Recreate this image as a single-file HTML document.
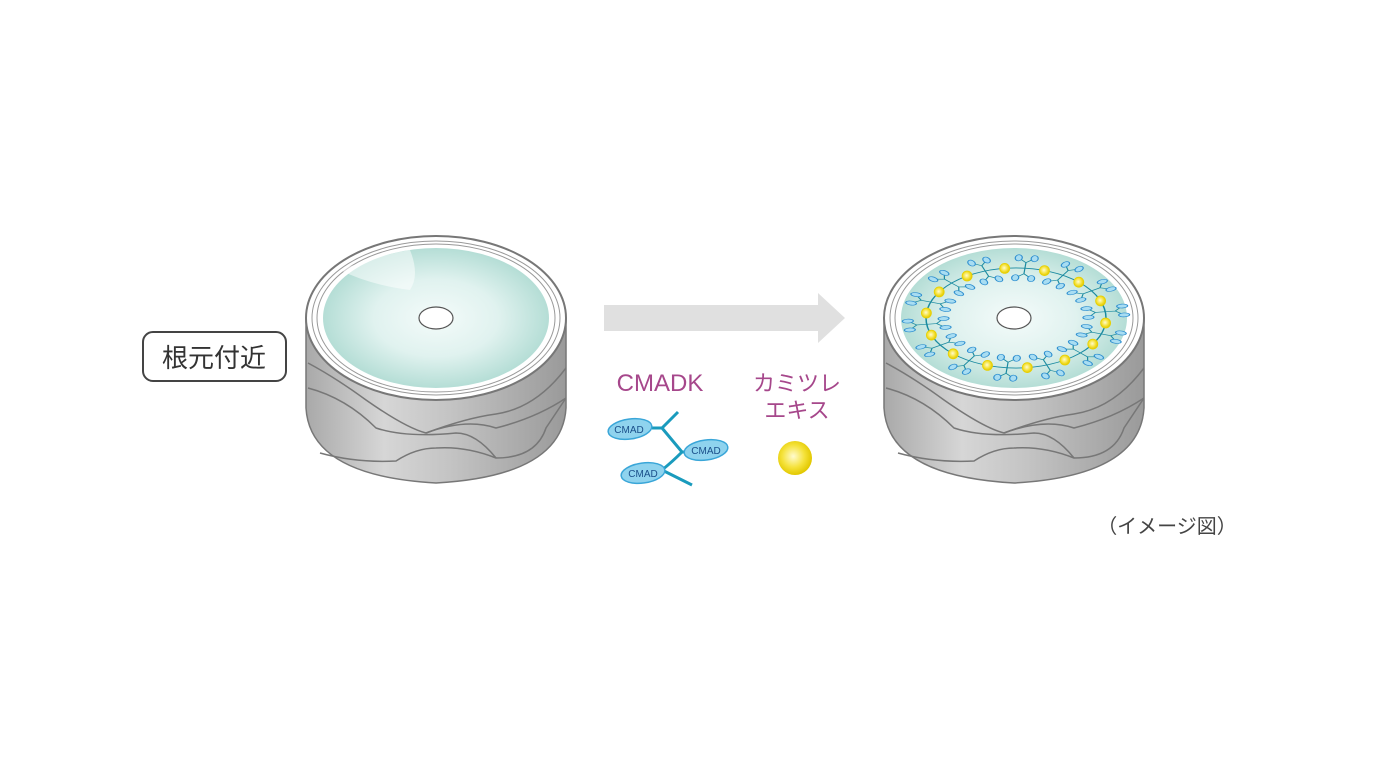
<!DOCTYPE html>
<html><head><meta charset="utf-8"><style>
body{margin:0;background:#fff;width:1380px;height:776px;overflow:hidden}
svg{display:block}
text{font-family:"Liberation Sans","Noto Sans CJK JP",sans-serif}
</style></head><body>
<svg width="1380" height="776" viewBox="0 0 1380 776" xmlns="http://www.w3.org/2000/svg">
<defs>
<linearGradient id="body" x1="0" x2="1" y1="0" y2="0">
<stop offset="0" stop-color="#a9a9a9"/><stop offset="0.3" stop-color="#d6d6d6"/><stop offset="0.55" stop-color="#c4c4c4"/><stop offset="1" stop-color="#9a9a9a"/></linearGradient>
<radialGradient id="teal" cx="0.5" cy="0.5" r="0.55">
<stop offset="0" stop-color="#f4fbfa"/><stop offset="0.5" stop-color="#e0f2ef"/><stop offset="1" stop-color="#abd9d0"/></radialGradient>
<radialGradient id="ball" cx="0.45" cy="0.45" r="0.55">
<stop offset="0" stop-color="#fffbd0"/><stop offset="0.6" stop-color="#f5e23a"/><stop offset="1" stop-color="#e2c800"/></radialGradient>
<g id="cyl">
<path d="M-130,0 L-130,90 Q-126,158 0,165 Q126,158 130,90 L130,0 Z" fill="url(#body)" stroke="#777" stroke-width="1.5"/>
<path d="M-128,45 Q-100,60 -70,82 Q-30,110 -10,115 Q30,100 60,96 Q100,90 130,50" fill="none" stroke="#777" stroke-width="1.5"/>
<path d="M-128,70 Q-90,80 -60,110 Q-30,120 20,115 Q40,115 60,140" fill="none" stroke="#777" stroke-width="1.5"/>
<path d="M-10,115 Q30,100 60,110 Q100,100 130,80" fill="none" stroke="#777" stroke-width="1.5"/>
<path d="M-116,135 Q-80,145 -40,143 Q-20,130 0,130 Q30,128 60,140 Q100,140 110,110 Q120,95 130,80" fill="none" stroke="#777" stroke-width="1.5"/>
<ellipse cx="0" cy="0" rx="130" ry="82" fill="#fff" stroke="#777" stroke-width="2"/>
<ellipse cx="0" cy="0" rx="124" ry="77" fill="none" stroke="#999" stroke-width="1"/>
<ellipse cx="0" cy="0" rx="119" ry="74" fill="none" stroke="#999" stroke-width="1"/>
<ellipse cx="0" cy="0" rx="113" ry="70" fill="url(#teal)"/>
<ellipse cx="0" cy="0" rx="17" ry="11" fill="#fff" stroke="#555" stroke-width="1.2"/>
</g>
<g id="leaf" fill="#a8ddf2" stroke="#2f8fd0" stroke-width="1.2">
<path d="M90,0 L100,0 M100,0 L106,-6 M100,0 L106,6 M90,0 L80,0 M80,0 L74,-6 M80,0 L74,6" stroke="#1a8aa0" fill="none"/>
<ellipse cx="108" cy="-8" rx="5.5" ry="3.5"/>
<ellipse cx="108" cy="8" rx="5.5" ry="3.5"/>
<ellipse cx="72" cy="-8" rx="5.5" ry="3.5"/>
<ellipse cx="72" cy="8" rx="5.5" ry="3.5"/>
</g>
</defs>
<use href="#cyl" x="436" y="318"/>
<use href="#cyl" x="1014" y="318"/>
<path d="M340,270 Q380,255 410,250 Q420,275 410,290 Q370,285 340,270Z" fill="#fff" opacity="0.5"/>
<g transform="translate(1016 318) scale(1 0.556)">
<circle r="90" fill="none" stroke="#1a8aa0" stroke-width="1.5"/>
<use href="#leaf" transform="rotate(18.6)"/>
<use href="#leaf" transform="rotate(44.3)"/>
<use href="#leaf" transform="rotate(70)"/>
<use href="#leaf" transform="rotate(95.7)"/>
<use href="#leaf" transform="rotate(121.4)"/>
<use href="#leaf" transform="rotate(147.1)"/>
<use href="#leaf" transform="rotate(172.8)"/>
<use href="#leaf" transform="rotate(198.6)"/>
<use href="#leaf" transform="rotate(224.3)"/>
<use href="#leaf" transform="rotate(250)"/>
<use href="#leaf" transform="rotate(275.7)"/>
<use href="#leaf" transform="rotate(301.4)"/>
<use href="#leaf" transform="rotate(327.1)"/>
<use href="#leaf" transform="rotate(352.8)"/>
</g>
<g fill="url(#ball)" stroke="#e8d000" stroke-width="0.8">
<circle cx="1105.6" cy="323" r="5"/><circle cx="1092.8" cy="344.1" r="5"/><circle cx="1064.9" cy="360" r="5"/>
<circle cx="1027.3" cy="367.6" r="5"/><circle cx="987.5" cy="365.4" r="5"/><circle cx="953.2" cy="353.8" r="5"/>
<circle cx="931.4" cy="335.1" r="5"/><circle cx="926.4" cy="313" r="5"/><circle cx="939.2" cy="291.9" r="5"/>
<circle cx="967.1" cy="276" r="5"/><circle cx="1004.7" cy="268.4" r="5"/><circle cx="1044.5" cy="270.6" r="5"/>
<circle cx="1078.8" cy="282.2" r="5"/><circle cx="1100.6" cy="300.9" r="5"/>
</g>
<rect x="143" y="332" width="143" height="49" rx="10" fill="#fff" stroke="#444" stroke-width="2"/>
<text x="214" y="367" font-size="26" fill="#333" text-anchor="middle">根元付近</text>
<path d="M604,305 L818,305 L818,293 L845,318 L818,343 L818,331 L604,331Z" fill="#e0e0e0"/>
<text x="660" y="391" font-size="24" fill="#a6478b" text-anchor="middle">CMADK</text>
<text x="797" y="391" font-size="22" fill="#a6478b" text-anchor="middle">カミツレ</text>
<text x="797" y="418" font-size="22" fill="#a6478b" text-anchor="middle">エキス</text>
<g stroke="#1a9bbd" stroke-width="3" fill="none">
<path d="M652,428 L662,428 Q670,420 678,412"/>
<path d="M662,428 Q672,440 682,452 L686,452"/>
<path d="M682,452 Q672,462 662,470 L656,472"/>
<path d="M662,470 Q678,478 692,485"/>
</g>
<g fill="#8fd3ee" stroke="#3aa6d8" stroke-width="1.5">
<ellipse cx="630" cy="429" rx="22" ry="10" transform="rotate(-8 630 429)"/>
<ellipse cx="706" cy="450" rx="22" ry="10" transform="rotate(-8 706 450)"/>
<ellipse cx="643" cy="473" rx="22" ry="10" transform="rotate(-8 643 473)"/>
</g>
<g font-size="10" fill="#1a4f8a" text-anchor="middle">
<text x="629" y="433">CMAD</text><text x="706" y="454">CMAD</text><text x="643" y="477">CMAD</text>
</g>
<circle cx="795" cy="458" r="17" fill="url(#ball)"/>
<text x="1167" y="533" font-size="20" fill="#444" text-anchor="middle">（イメージ図）</text>
</svg>
</body></html>
